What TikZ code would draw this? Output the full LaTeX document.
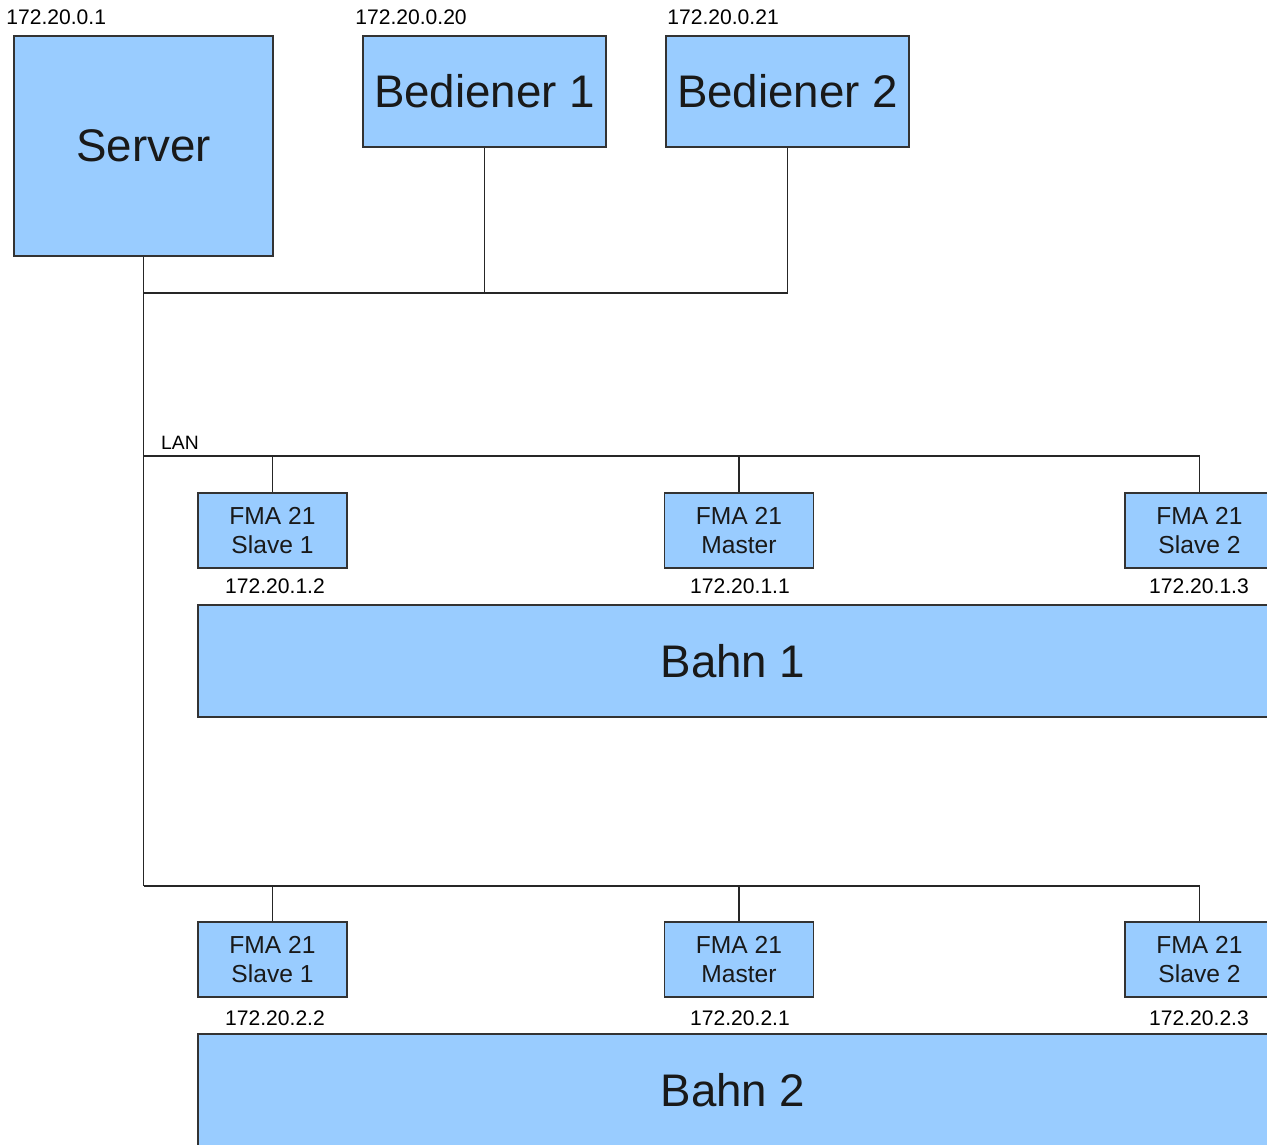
\documentclass[tikz,border=0pt]{standalone}
\usepackage{fontspec}
\setmainfont{Liberation Sans}
\usepackage{tikz}
\usetikzlibrary{calc}
\definecolor{boxblue}{HTML}{99CCFF}
\definecolor{boxline}{HTML}{333333}

\begin{document}
\begin{tikzpicture}[x=0.02cm,y=-0.02cm,
	unit/.style={draw=boxline,fill=boxblue,line width=1.1pt,inner sep=0pt,align=center,text=black!90},
	big/.style={unit,font=\fontsize{26}{30}\selectfont},
	fma/.style={unit,minimum width=2.98cm,minimum height=1.5cm,font=\fontsize{14}{17}\selectfont},
	ip/.style={font=\fontsize{12}{14}\selectfont,inner sep=0pt},
	wire/.style={line width=1pt,black!85}]
	\newcommand{\bedW}{4.86cm}
	\newcommand{\bedH}{2.22cm}
	\newcommand{\bahnW}{21.4cm}
	\newcommand{\bahnH}{2.24cm}

	\useasboundingbox (0,0) rectangle (1267,1144);
	\clip (0,0) rectangle (1267,1144);

	% server and operator stations
	\node[big,minimum width=5.18cm,minimum height=4.4cm] (srv) at (143.5,146) {Server};
	\node[big,minimum width=\bedW,minimum height=\bedH] (bed1) at (484.5,91.5) {Bediener 1};
	\node[big,minimum width=\bedW,minimum height=\bedH] (bed2) at (787.5,91.5) {Bediener 2};
	\node[ip,anchor=west] (ipsrv) at (6,17) {172.20.0.1};
	\node[ip,anchor=west] (ipbed1) at (355,17) {172.20.0.20};
	\node[ip,anchor=west] (ipbed2) at (667,17) {172.20.0.21};

	% line 1
	\node[fma] (slA1) at (272.5,530.5) {FMA 21\\Slave 1};
	\node[fma] (maA) at (739,530.5) {FMA 21\\Master};
	\node[fma] (slA2) at (1199.5,530.5) {FMA 21\\Slave 2};
	\node[ip] (ipslA1) at (275,586) {172.20.1.2};
	\node[ip] (ipmaA) at (740,586) {172.20.1.1};
	\node[ip] (ipslA2) at (1199,586) {172.20.1.3};
	\node[big,minimum width=\bahnW,minimum height=\bahnH] (bahnA) at (733,661) {Bahn 1};

	% line 2
	\node[fma] (slB1) at (272.5,959.5) {FMA 21\\Slave 1};
	\node[fma] (maB) at (739,959.5) {FMA 21\\Master};
	\node[fma] (slB2) at (1199.5,959.5) {FMA 21\\Slave 2};
	\node[ip] (ipslB1) at (275,1018) {172.20.2.2};
	\node[ip] (ipmaB) at (740,1018) {172.20.2.1};
	\node[ip] (ipslB2) at (1199,1018) {172.20.2.3};
	\node[big,minimum width=\bahnW,minimum height=\bahnH] (bahnB) at (733,1090) {Bahn 2};

	% network wiring
	\coordinate (tapTop) at (143.5,293);
	\coordinate (lanA) at (143.5,456);
	\coordinate (lanB) at (143.5,886);
	\node[font=\fontsize{11}{13}\selectfont,inner sep=0pt] (lan) at (180,443) {LAN};

	\draw[wire] (srv.south) -- (lanB);
	\draw[wire] (bed2.south) |- (tapTop);
	\draw[wire] (bed1.south) -- (bed1.south |- tapTop);

	\draw[wire] (lanA) -| (slA2.north);
	\draw[wire] (slA1.north) -- (slA1.north |- lanA);
	\draw[wire] (maA.north) -- (maA.north |- lanA);

	\draw[wire] (lanB) -| (slB2.north);
	\draw[wire] (slB1.north) -- (slB1.north |- lanB);
	\draw[wire] (maB.north) -- (maB.north |- lanB);
\end{tikzpicture}
\end{document}
